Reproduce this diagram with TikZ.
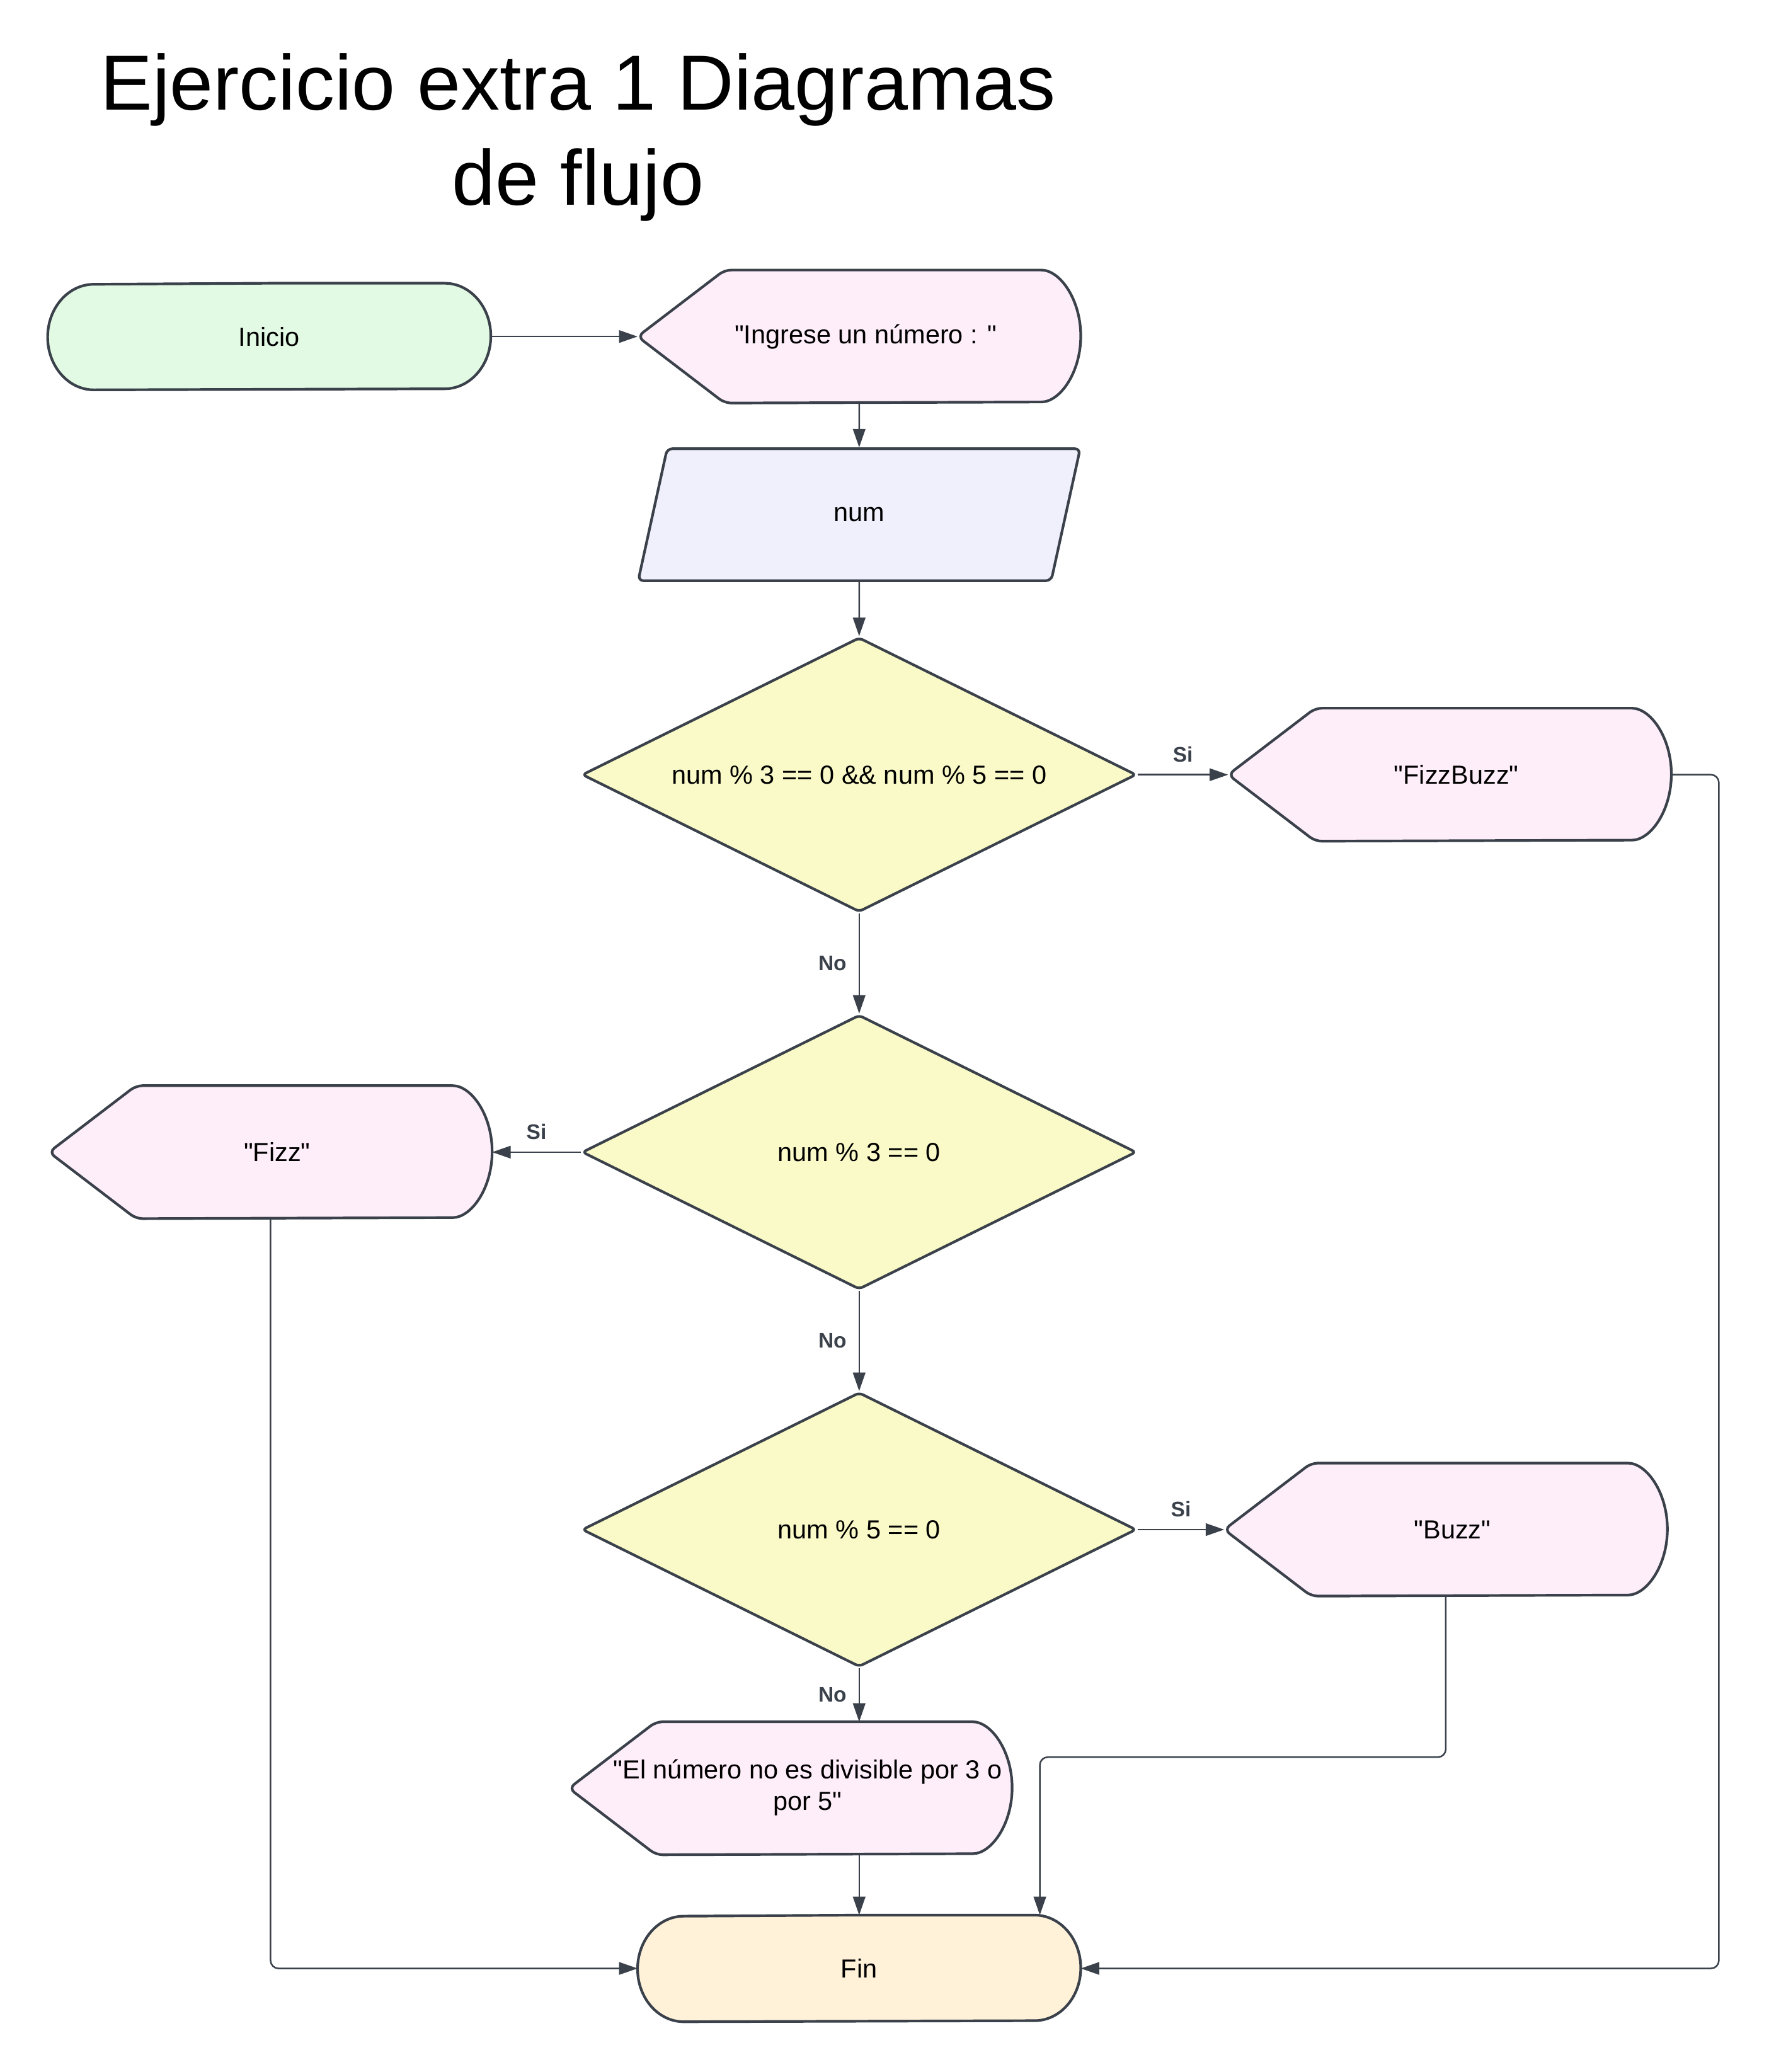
\documentclass[tikz,border=0pt]{standalone}
\usepackage{fontspec}
\setmainfont{Liberation Sans}[Ligatures=TeXOff]
\usetikzlibrary{shapes.geometric,arrows.meta,backgrounds}
\definecolor{linegray}{HTML}{3A414A}
\definecolor{startgreen}{HTML}{E2FAE3}
\definecolor{showpink}{HTML}{FEEEF9}
\definecolor{inputblue}{HTML}{F0F0FD}
\definecolor{askyellow}{HTML}{FAFAC8}
\definecolor{endorange}{HTML}{FFF2D9}
\tikzset{
	box/.style={rectangle, inner sep=0pt, minimum width=167.5pt},
	term/.style={box, minimum height=40pt},
	disp/.style={box, minimum height=50pt, execute at begin node={\hspace*{5pt}}},
	inp/.style={trapezium, trapezium left angle=75, trapezium right angle=105, trapezium stretches=true,
		draw=linegray, line width=1pt, fill=inputblue, rounded corners=2pt,
		minimum width=167.5pt, minimum height=50pt, inner sep=0pt},
	ask/.style={diamond, aspect=2, draw=linegray, line width=1pt, fill=askyellow, rounded corners=1.5pt,
		minimum width=210pt, minimum height=104pt, inner sep=0pt},
	outl/.style={draw=linegray, line width=1pt, rounded corners=2.5pt},
	conn/.style={draw=linegray, line width=0.6pt, -{Triangle[length=7pt,width=4.7pt]}, rounded corners=3pt},
	lbl/.style={font=\fontsize{8pt}{9.6pt}\selectfont\bfseries, text=linegray, inner sep=0pt}
}
\begin{document}
\begin{tikzpicture}[x=0.5pt, y=-0.5pt, font=\fontsize{9.9pt}{12pt}\selectfont]
	\useasboundingbox (0,0) rectangle (1340,1570);
	%title
	\node[font=\fontsize{29.6pt}{36pt}\selectfont, align=center] (title) at (438,104)
	{Ejercicio extra 1 Diagramas\\de flujo};
	%shapes
	\node[term] (inicio) at (204,255) {Inicio};
	\node[disp] (ingr) at (651,255) {"Ingrese un número : "};
	\node[inp] (num) at (651,390) {num};
	\node[ask] (d1) at (651,587) {num \% 3 == 0 \&\& num \% 5 == 0};
	\node[disp] (fizzbuzz) at (1098.5,587) {"FizzBuzz"};
	\node[ask] (d2) at (651,873) {num \% 3 == 0};
	\node[disp] (fizz) at (205,873) {"Fizz"};
	\node[ask] (d3) at (651,1159) {num \% 5 == 0};
	\node[disp] (buzz) at (1095.5,1159) {"Buzz"};
	\node[disp] (nodiv) at (599,1355)
	{\hspace*{8pt}\begin{tabular}{@{}c@{}}"El número no es divisible por 3 o\\por 5"\end{tabular}};
	\node[term] (fin) at (651,1491.5) {Fin};
	%outlines
	\begin{scope}[on background layer]
		\foreach \n/\c in {inicio/startgreen, fin/endorange}
		\draw[outl, sharp corners, fill=\c] (\n.north) -- ([xshift=-17.5pt]\n.north east)
		arc[start angle=90, end angle=-90, x radius=17.5pt, y radius=20pt]
		-- ([xshift=17.5pt]\n.south west)
		arc[start angle=270, end angle=90, x radius=17.5pt, y radius=20pt] -- cycle;
		\foreach \n in {ingr, fizzbuzz, fizz, buzz, nodiv}
		\draw[outl, fill=showpink] (\n.west) -- ([xshift=33pt]\n.north west) -- ([xshift=-17.5pt]\n.north east)
		arc[start angle=90, end angle=-90, x radius=17.5pt, y radius=25pt]
		-- ([xshift=33pt]\n.south west) -- cycle;
	\end{scope}
	%arrows
	\draw[conn] (inicio.east) -- (ingr.west);
	\draw[conn] (ingr.south) -- (num.north);
	\draw[conn] (num.south) -- (d1.north);
	\draw[conn] (d1.east) -- node[lbl, above=4.5pt] {Si} (fizzbuzz.west);
	\draw[conn] (d1.south) -- node[lbl, left=4.5pt] {No} (d2.north);
	\draw[conn] (d2.west) -- node[lbl, above=4.5pt] {Si} (fizz.east);
	\draw[conn] (d2.south) -- node[lbl, left=4.5pt] {No} (d3.north);
	\draw[conn] (d3.east) -- node[lbl, above=4.5pt] {Si} (buzz.west);
	\draw[conn] (d3.south) -- node[lbl, left=4.5pt] {No} (d3.south |- nodiv.north);
	\draw[conn] (nodiv.south -| fin.north) -- (fin.north);
	\draw[conn] (buzz.south) -- ++(0,122) -| ([xshift=-15.5pt]fin.north east);
	\draw[conn] (fizzbuzz.east) -- ++(36,0) |- (fin.east);
	\draw[conn] (fizz.south) |- (fin.west);
\end{tikzpicture}
\end{document}
